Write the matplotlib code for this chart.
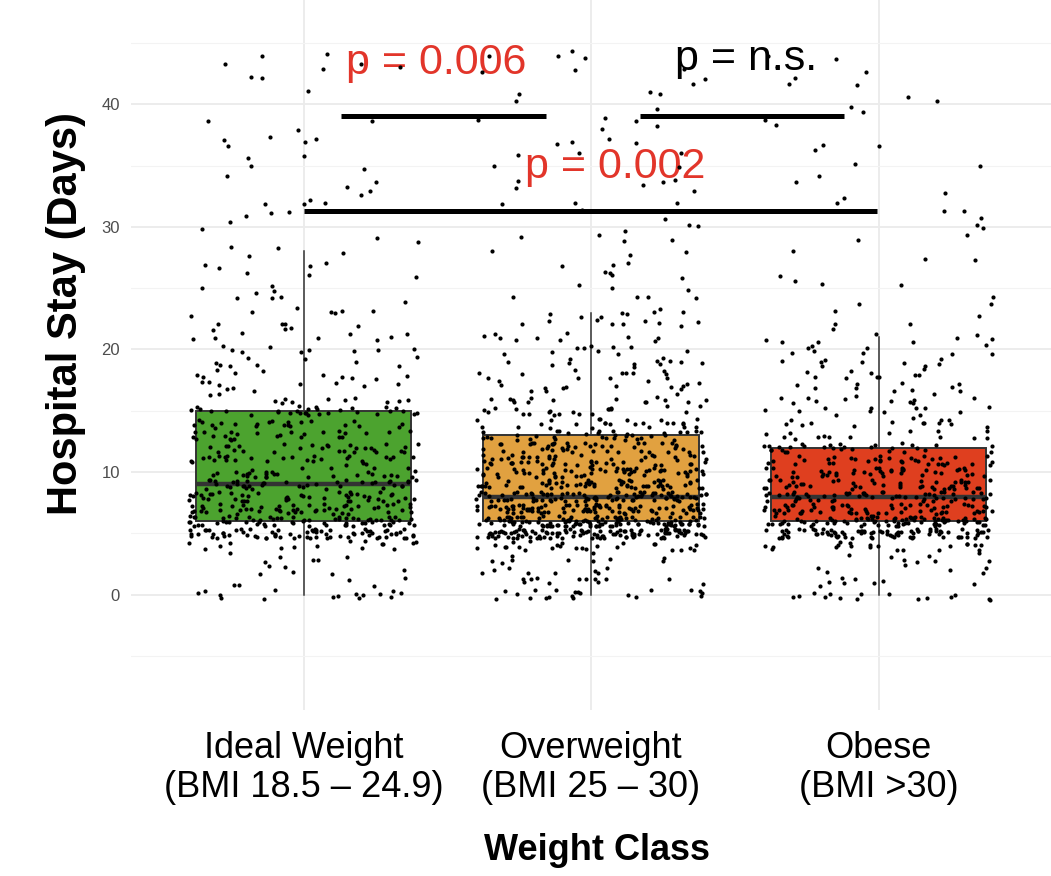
import numpy as np
import matplotlib
matplotlib.use("Agg")
import matplotlib.pyplot as plt

plt.rcParams['font.family'] = ['Liberation Sans', 'DejaVu Sans']

# ---------------- data ----------------
categories = ["Ideal Weight\n(BMI 18.5 – 24.9)", "Overweight\n(BMI 25 – 30)", "Obese\n(BMI >30)"]
days = list(range(45))  # hospital stay, whole days 0..44

# number of patients per day value (read from the jittered points)
ideal_counts = [15, 5, 6, 6, 15, 70, 65, 50, 45, 40,
                30, 28, 28, 25, 22, 30, 12, 10, 10, 9,
                9, 8, 7, 7, 4, 4, 3, 4, 4, 2,
                2, 3, 4, 3, 2, 2, 2, 5, 1, 2,
                0, 1, 2, 4, 2]
over_counts = [20, 12, 8, 10, 25, 110, 120, 85, 85, 60,
               55, 50, 45, 35, 25, 20, 15, 14, 12, 12,
               10, 10, 9, 8, 4, 3, 4, 3, 3, 4,
               3, 2, 3, 3, 3, 2, 3, 4, 2, 3,
               2, 3, 2, 3, 4]
obese_counts = [15, 8, 6, 8, 20, 85, 80, 60, 55, 45,
                40, 35, 30, 15, 14, 12, 12, 10, 10, 9,
                9, 8, 3, 2, 3, 2, 2, 2, 1, 2,
                2, 3, 2, 1, 2, 2, 1, 2, 1, 2,
                2, 1, 3, 2, 2]
group_counts = [ideal_counts, over_counts, obese_counts]

box_colors = ['#4CA32F', '#E1A140', '#DF3F1F']

# significance brackets (category index coordinates)
bracket_x0 = [0.13, 1.17, 0.0]
bracket_x1 = [0.845, 1.88, 1.995]
bracket_y = [39.0, 39.0, 31.3]
p_labels = ["p = 0.006", "p = n.s.", "p = 0.002"]
p_x = [0.46, 1.54, 1.085]
p_y = [42.5, 42.8, 34.0]
p_colors = ['#E2352A', '#000000', '#E2352A']

y_ticks = [0, 10, 20, 30, 40]
y_minor = [-5, 5, 15, 25, 35, 45]


def hash01(n, seed):
    """Deterministic integer hash -> [0, 1), used only for jitter placement."""
    m = np.uint64(0xFFFFFFFF)
    x = (n.astype(np.uint64) * np.uint64(2654435761) + np.uint64(seed)) & m
    x ^= x >> np.uint64(16)
    x = (x * np.uint64(0x45D9F3B)) & m
    x ^= x >> np.uint64(16)
    x = (x * np.uint64(0x45D9F3B)) & m
    x ^= x >> np.uint64(16)
    return x.astype(np.float64) / 4294967296.0


# ---------------- figure ----------------
W, H = 1051, 876
fig = plt.figure(figsize=(W / 100, H / 100), dpi=100)
ax = fig.add_axes([131 / W, 1 - 710 / H, 920 / W, 710 / H])

raw = [np.repeat(days, c).astype(float) for c in group_counts]

bp = ax.boxplot(raw, positions=[0, 1, 2], widths=0.75, patch_artist=True,
                showfliers=False, showcaps=False, whis=1.5,
                boxprops=dict(edgecolor='#333333', linewidth=1.4),
                whiskerprops=dict(color='#333333', linewidth=1.1),
                medianprops=dict(color='#333333', linewidth=3.2),
                zorder=2)
for patch, col in zip(bp['boxes'], box_colors):
    patch.set_facecolor(col)

for x0, x1, yb in zip(bracket_x0, bracket_x1, bracket_y):
    ax.plot([x0, x1], [yb, yb], color='black', linewidth=3.6,
            solid_capstyle='butt', zorder=4)
for lab, xp, yp, col in zip(p_labels, p_x, p_y, p_colors):
    ax.text(xp, yp, lab, color=col, fontsize=31, ha='center', va='baseline', zorder=5)

# jittered points (+-0.4 in x and y, like geom_jitter), drawn on top
for k, vals in enumerate(raw):
    idx = np.arange(len(vals))
    u = hash01(idx, 1013 + 7 * k)
    v = hash01(idx + 100000, 5077 + 11 * k)
    xs = k + (u - 0.5) * 0.8
    ys = vals + (v - 0.5) * 0.8
    ax.scatter(xs, ys, s=9, c='black', linewidths=0, zorder=6)

ax.set_xlim(-0.6, 2.6)
ax.set_ylim(-9.4, 48.5)
ax.set_xticks([0, 1, 2])
ax.set_xticklabels(categories, fontsize=26, linespacing=1.15)
ax.set_yticks(y_ticks)
ax.set_yticks(y_minor, minor=True)
ax.tick_params(axis='y', which='major', length=0, pad=8, labelsize=12, labelcolor='#4D4D4D')
ax.tick_params(axis='y', which='minor', length=0)
ax.tick_params(axis='x', length=0, pad=15, labelcolor='black')

ax.grid(True, which='major', color='#EBEBEB', linewidth=1.3, zorder=0)
ax.grid(True, which='minor', axis='y', color='#F3F3F3', linewidth=0.8, zorder=0)
ax.set_axisbelow(True)
for s in ax.spines.values():
    s.set_visible(False)

ax.set_xlabel("Weight Class", fontsize=26, fontweight='bold')
ax.xaxis.set_label_coords(0.5065, -0.173)
ax.set_ylabel("Hospital Stay (Days)", fontsize=30, fontweight='bold')
ax.yaxis.set_label_coords(-0.049, 0.559)

fig.savefig("out.png", dpi=100)
